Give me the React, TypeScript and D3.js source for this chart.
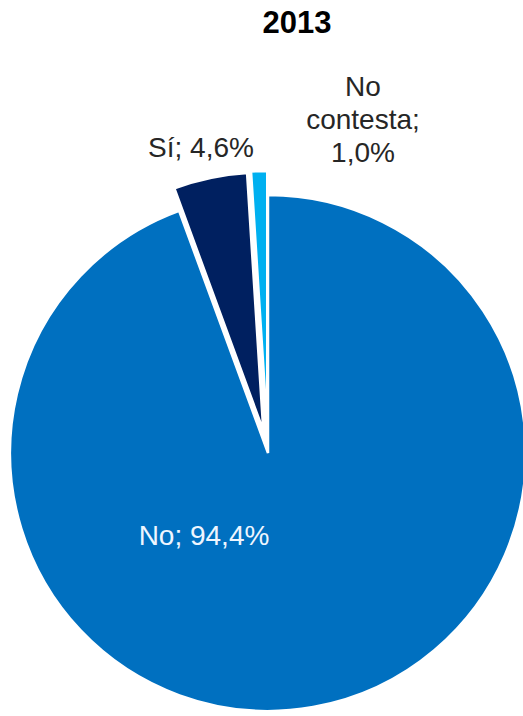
import React from "react";
import * as d3 from "d3";

const title = "2013";
const categories = ["No", "Sí", "No contesta"];
const values = [94.4, 4.6, 1.0];
const labelLines = [["No; 94,4%"], ["Sí; 4,6%"], ["No", "contesta;", "1,0%"]];

const colors = ["#0070C0", "#002060", "#00B0F0"];
const explode = [0, 23, 24];
const labelPos: [number, number][] = [[204, 545], [201, 157], [363, 96]];
const labelColors = ["#eef6ff", "#262626", "#262626"];

export default function App() {
  const W = 523, H = 716;
  const cx = 268, cy = 453, r = 258;
  const data = categories.map((c, i) => ({ c, v: values[i], i }));
  const pie = d3.pie<any>().value((d) => d.v).sort(null).startAngle(0).endAngle(2 * Math.PI);
  const arcs = pie(data);
  const arc = d3.arc<any>().innerRadius(0).outerRadius(r);
  return (
    <svg width={W} height={H} style={{ position: "absolute", left: 0, top: 0, background: "#fff" }}>
      <text x={297} y={33} textAnchor="middle" fontFamily="Liberation Sans, Arial, sans-serif" fontWeight="bold" fontSize={31} fill="#000">{title}</text>
      <g transform={`translate(${cx},${cy})`}>
        {arcs.map((a, i) => {
          const mid = (a.startAngle + a.endAngle) / 2;
          const dx = Math.sin(mid) * explode[i];
          const dy = -Math.cos(mid) * explode[i];
          return (
            <path key={i} d={arc(a) || ""} transform={`translate(${dx},${dy})`} fill={colors[i]} stroke="#ffffff" strokeWidth={2.5} strokeLinejoin="miter" />
          );
        })}
      </g>
      {labelLines.map((lines, i) => (
        <text key={i} textAnchor="middle" fontFamily="Liberation Sans, Arial, sans-serif" fontSize={28} fill={labelColors[i]}>
          {lines.map((l, j) => (
            <tspan key={j} x={labelPos[i][0]} y={labelPos[i][1] + j * 33}>{l}</tspan>
          ))}
        </text>
      ))}
    </svg>
  );
}
